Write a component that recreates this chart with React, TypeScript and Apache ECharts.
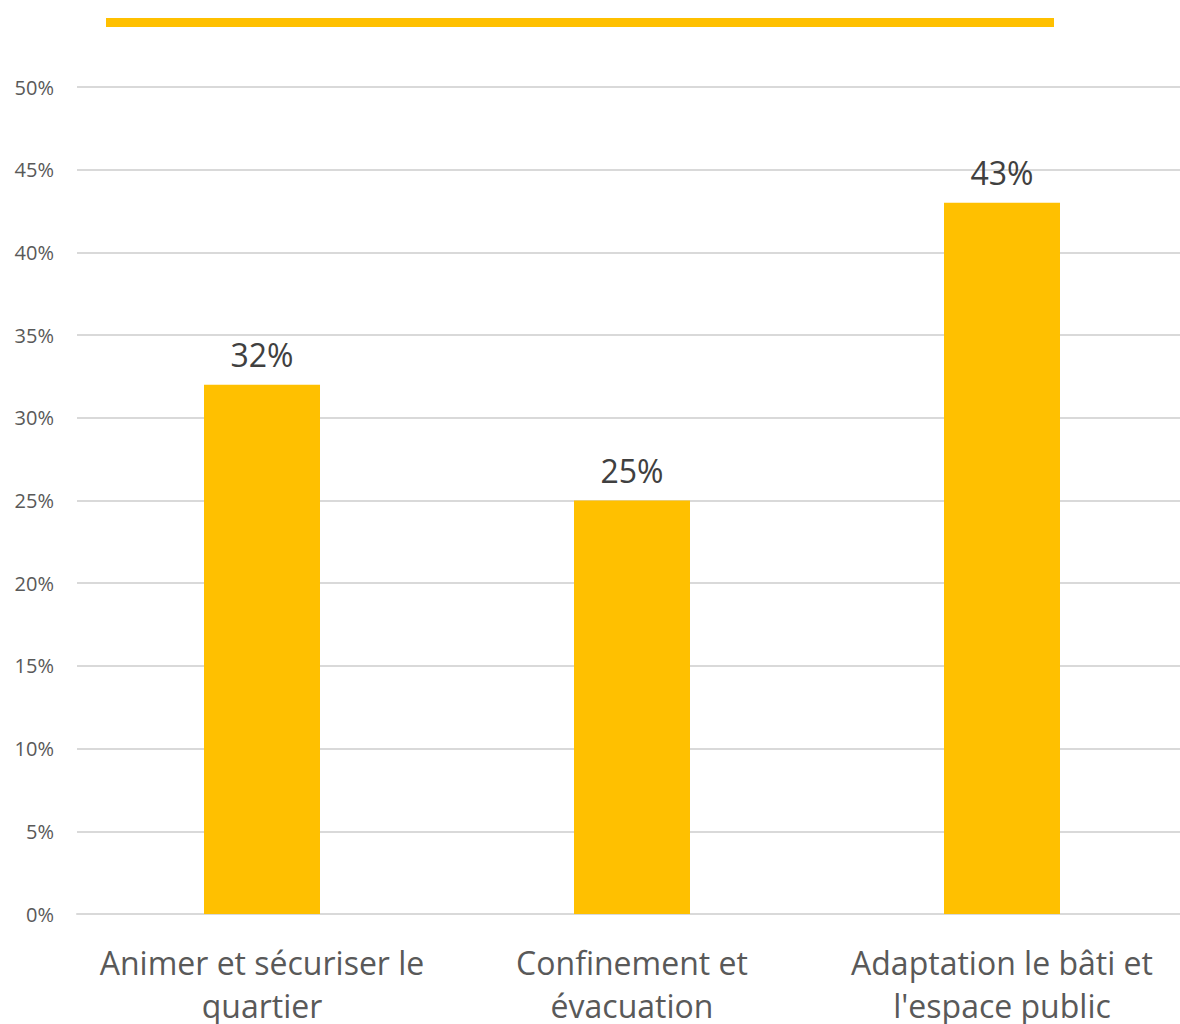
import React, { useEffect, useRef } from "react";
import * as echarts from "echarts";

const categories = ["Animer et sécuriser le\nquartier", "Confinement et\névacuation", "Adaptation le bâti et\nl'espace public"];
const values = [32, 25, 43];
const yTicks = [0, 5, 10, 15, 20, 25, 30, 35, 40, 45, 50];

export default function App() {
  const ref = useRef<HTMLDivElement>(null);
  useEffect(() => {
    const chart = echarts.init(ref.current!, null, { renderer: "svg" });
    chart.setOption({
      animation: false,
      backgroundColor: "#ffffff",
      grid: { left: 77, width: 1110, top: 87, bottom: 110, containLabel: false, outerBoundsMode: "none" },
      graphic: [
        { type: "rect", shape: { x: 106, y: 18, width: 948, height: 9 }, style: { fill: "#FFC000" } },
      ],
      xAxis: {
        type: "category",
        data: categories,
        axisLine: { show: true, lineStyle: { color: "#d9d9d9", width: 2 } },
        axisTick: { show: false },
        axisLabel: {
          color: "#595959",
          fontFamily: "Open Sans",
          fontSize: 32,
          lineHeight: 43,
          margin: 27,
          interval: 0,
        },
      },
      yAxis: {
        type: "value",
        min: 0,
        max: 50,
        interval: 5,
        axisLine: { show: false },
        axisTick: { show: false },
        splitLine: { lineStyle: { color: "#d9d9d9", width: 2 } },
        axisLabel: {
          color: "#595959",
          fontFamily: "Open Sans",
          fontSize: 20,
          margin: 23,
          formatter: (v: number) => (yTicks.includes(v) ? v + "%" : ""),
        },
      },
      series: [
        {
          type: "bar",
          data: values,
          barWidth: 116,
          itemStyle: { color: "#FFC000" },
          label: {
            show: true,
            position: "top",
            distance: 14,
            color: "#404040",
            fontFamily: "Open Sans",
            fontSize: 32,
            formatter: (p: any) => p.value + "%",
          },
        },
      ],
    });
    return () => chart.dispose();
  }, []);
  return <div ref={ref} style={{ position: "absolute", left: 0, top: 0, width: 1180, height: 1024, overflow: "hidden" }} />;
}
